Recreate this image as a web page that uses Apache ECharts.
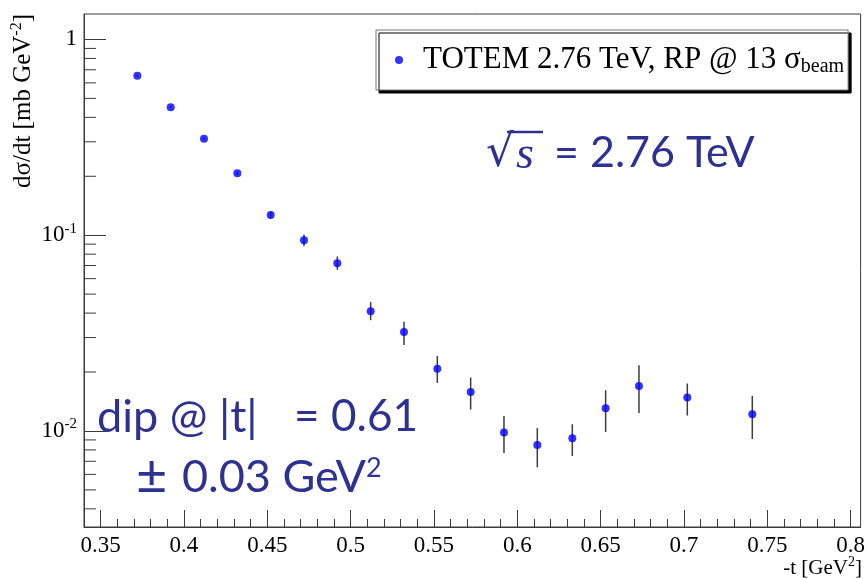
<!DOCTYPE html>
<html>
<head>
<meta charset="utf-8">
<style>
  html, body { margin: 0; padding: 0; background: #fff; }
  #chart { width: 868px; height: 579px; }
</style>
<script src="https://cdn.jsdelivr.net/npm/echarts@6/dist/echarts.min.js"></script>
</head>
<body>
<div id="chart"></div>
<script>
// ---- data ----
const t      = [0.372, 0.392, 0.412, 0.432, 0.452, 0.472, 0.492, 0.512, 0.532, 0.552, 0.572, 0.592, 0.612, 0.633, 0.653, 0.673, 0.702, 0.741];
const dsdt   = [0.652, 0.451, 0.311, 0.207, 0.127, 0.0943, 0.0720, 0.0409, 0.0320, 0.0208, 0.0158, 0.00981, 0.00848, 0.00918, 0.01306, 0.01698, 0.01482, 0.01217];
const errLow = [0.645, 0.446, 0.306, 0.203, 0.122, 0.0882, 0.0666, 0.0368, 0.0275, 0.01759, 0.01287, 0.00772, 0.00652, 0.00745, 0.00988, 0.01236, 0.01199, 0.00910];
const errHigh= [0.659, 0.456, 0.316, 0.211, 0.132, 0.1008, 0.0779, 0.0455, 0.0361, 0.02417, 0.01875, 0.01193, 0.01034, 0.01082, 0.01614, 0.02166, 0.01747, 0.01510];

const xTickLabels = [0.35, 0.4, 0.45, 0.5, 0.55, 0.6, 0.65, 0.7, 0.75, 0.8];
const xMinorTicks = [0.34, 0.36, 0.37, 0.38, 0.39, 0.41, 0.42, 0.43, 0.44, 0.46, 0.47, 0.48, 0.49,
                     0.51, 0.52, 0.53, 0.54, 0.56, 0.57, 0.58, 0.59, 0.61, 0.62, 0.63, 0.64,
                     0.66, 0.67, 0.68, 0.69, 0.71, 0.72, 0.73, 0.74, 0.76, 0.77, 0.78, 0.79];
const yMinorTicks = [0.004, 0.005, 0.006, 0.007, 0.008, 0.009,
                     0.02, 0.03, 0.04, 0.05, 0.06, 0.07, 0.08, 0.09,
                     0.2, 0.3, 0.4, 0.5, 0.6, 0.7, 0.8, 0.9];

const seriesName = 'TOTEM 2.76 TeV, RP @ 13 σbeam';
const X_MIN = 0.34, X_MAX = 0.806;
const Y_MIN = 0.003231, Y_MAX = 1.349;

const AXIS_COLOR = '#3a3a3a';
const SERIF = '"Liberation Serif", "Times New Roman", serif';
const ANNOT = '#2e3192';

const chart = echarts.init(document.getElementById('chart'), null, { renderer: 'canvas' });

const errData = t.map((x, i) => [x, errLow[i], errHigh[i]]);
const ptData = t.map((x, i) => [x, dsdt[i]]);

const option = {
  animation: false,
  backgroundColor: '#fff',
  grid: {
    left: 84, top: 14, right: 6, bottom: 52,
    show: true, borderColor: AXIS_COLOR, borderWidth: 1, backgroundColor: 'transparent'
  },
  legend: {
    show: true,
    left: 376, top: 30,
    orient: 'horizontal',
    data: [seriesName],
    icon: 'circle',
    itemWidth: 8, itemHeight: 8,
    padding: [13, 4, 13, 19],
    backgroundColor: '#fff',
    borderColor: '#777', borderWidth: 1,
    shadowColor: '#000', shadowBlur: 0, shadowOffsetX: 3, shadowOffsetY: 3,
    selectedMode: false,
    formatter: function () {
      return '{a|TOTEM 2.76 TeV, RP @ 13 σ}{b|beam}';
    },
    textStyle: {
      padding: [0, 0, 0, 15],
      rich: {
        a: { fontFamily: SERIF, fontSize: 31, color: '#000', lineHeight: 36 },
        b: { fontFamily: SERIF, fontSize: 20, color: '#000', padding: [14, 0, 0, 0], lineHeight: 36 }
      }
    }
  },
  xAxis: [
    {
      type: 'value', min: X_MIN, max: X_MAX, position: 'bottom',
      axisLine: { show: true, lineStyle: { color: AXIS_COLOR, width: 1 } },
      axisTick: { show: true, inside: true, length: 17, customValues: xTickLabels, lineStyle: { color: AXIS_COLOR } },
      axisLabel: {
        show: true, customValues: xTickLabels, margin: 7,
        fontFamily: SERIF, fontSize: 23, color: '#000',
        formatter: v => String(+v.toFixed(2))
      },
      splitLine: { show: false }
    },
    {
      type: 'value', min: X_MIN, max: X_MAX, position: 'bottom',
      axisLine: { show: false },
      axisTick: { show: true, inside: true, length: 8, customValues: xMinorTicks, lineStyle: { color: AXIS_COLOR } },
      axisLabel: { show: false },
      splitLine: { show: false }
    }
  ],
  yAxis: [
    {
      type: 'log', logBase: 10, min: Y_MIN, max: Y_MAX,
      axisLine: { show: true, lineStyle: { color: AXIS_COLOR, width: 1 } },
      axisTick: { show: true, inside: true, length: 22, lineStyle: { color: AXIS_COLOR } },
      axisLabel: {
        show: true, margin: 7, showMinLabel: false, showMaxLabel: false,
        fontFamily: SERIF, fontSize: 23, color: '#000',
        formatter: function (v) {
          const e = Math.round(Math.log10(v));
          if (Math.abs(v - Math.pow(10, e)) / Math.pow(10, e) > 1e-6) return '';
          if (e === 0) return '{b|1}';
          return '{b|10}{s|' + e + '}';
        },
        rich: {
          b: { fontFamily: SERIF, fontSize: 23, color: '#000' },
          s: { fontFamily: SERIF, fontSize: 15, color: '#000', padding: [0, 0, 13, 0] }
        }
      },
      splitLine: { show: false },
      minorTick: { show: false }
    }
  ],
  graphic: [
    {
      type: 'text', x: 23, y: 14, rotation: Math.PI / 2,
      style: {
        text: '{a|dσ/dt [mb GeV}{s|-2}{a|]}',
        align: 'right', verticalAlign: 'middle',
        rich: {
          a: { fontFamily: SERIF, fontSize: 25, fill: '#000' },
          s: { fontFamily: SERIF, fontSize: 16, fill: '#000', padding: [0, 0, 13, 0] }
        }
      }
    },
    {
      type: 'text', x: 862, y: 568,
      style: {
        text: '{a|-t [GeV}{s|2}{a|]}',
        align: 'right', verticalAlign: 'middle',
        rich: {
          a: { fontFamily: SERIF, fontSize: 21, fill: '#000' },
          s: { fontFamily: SERIF, fontSize: 14, fill: '#000', padding: [0, 0, 12, 0] }
        }
      }
    },
    // sqrt(s) = 2.76 TeV
    {
      type: 'text', x: 486, y: 155,
      style: { text: '√', fontFamily: '"DejaVu Sans"', fontSize: 44, fill: ANNOT, align: 'left', verticalAlign: 'middle' }
    },
    {
      type: 'line', shape: { x1: 507, y1: 132, x2: 543, y2: 132 },
      style: { stroke: ANNOT, lineWidth: 2.5 }
    },
    {
      type: 'text', x: 516, y: 156,
      style: { text: 's', fontFamily: SERIF, fontStyle: 'italic', fontSize: 46, fill: ANNOT, align: 'left', verticalAlign: 'middle' }
    },
    {
      type: 'text', x: 554, y: 153,
      style: { text: '= 2.76 TeV', fontFamily: 'Lato', fontSize: 43, fill: ANNOT, align: 'left', verticalAlign: 'middle' }
    },
    // dip annotation
    {
      type: 'text', x: 97, y: 417,
      style: { text: 'dip @ |t|', fontFamily: 'Lato', fontSize: 45, fill: ANNOT, align: 'left', verticalAlign: 'middle' }
    },
    {
      type: 'text', x: 294, y: 417,
      style: { text: '=', fontFamily: 'Lato', fontSize: 44, fill: ANNOT, align: 'left', verticalAlign: 'middle' }
    },
    {
      type: 'text', x: 331, y: 417,
      style: { text: '0.61', fontFamily: 'Lato', fontSize: 44, fill: ANNOT, align: 'left', verticalAlign: 'middle' }
    },
    {
      type: 'text', x: 136, y: 477,
      style: { text: '±', fontFamily: 'Lato', fontSize: 54, fill: ANNOT, align: 'left', verticalAlign: 'middle' }
    },
    {
      type: 'text', x: 182, y: 477,
      style: {
        text: '{a|0.03 GeV}{s|2}',
        align: 'left', verticalAlign: 'middle',
        rich: {
          a: { fontFamily: 'Lato', fontSize: 45, fill: ANNOT },
          s: { fontFamily: 'Lato', fontSize: 27, fill: ANNOT, padding: [0, 0, 18, 0] }
        }
      }
    }
  ],
  series: [
    {
      name: 'errors',
      type: 'custom',
      xAxisIndex: 0, yAxisIndex: 0,
      clip: false,
      silent: true,
      encode: { x: 0, y: [1, 2] },
      data: errData,
      renderItem: function (params, api) {
        const p1 = api.coord([api.value(0), api.value(1)]);
        const p2 = api.coord([api.value(0), api.value(2)]);
        return {
          type: 'line',
          shape: { x1: p1[0], y1: p1[1], x2: p2[0], y2: p2[1] },
          style: { stroke: '#3c3c3c', lineWidth: 1.5 }
        };
      },
      z: 2
    },
    {
      name: 'yMinorTicks',
      type: 'custom',
      xAxisIndex: 0, yAxisIndex: 0,
      clip: false,
      silent: true,
      encode: { y: 0 },
      data: yMinorTicks.map(v => [v]),
      renderItem: function (params, api) {
        const p = api.coord([X_MIN, api.value(0)]);
        return {
          type: 'line',
          shape: { x1: p[0], y1: p[1], x2: p[0] + 12, y2: p[1] },
          style: { stroke: AXIS_COLOR, lineWidth: 1 }
        };
      },
      z: 1
    },
    {
      name: seriesName,
      type: 'scatter',
      xAxisIndex: 0, yAxisIndex: 0,
      symbol: 'circle',
      symbolSize: 8,
      itemStyle: { color: '#0000ff' },
      data: ptData,
      z: 3
    }
  ]
};

chart.setOption(option);
</script>
</body>
</html>
